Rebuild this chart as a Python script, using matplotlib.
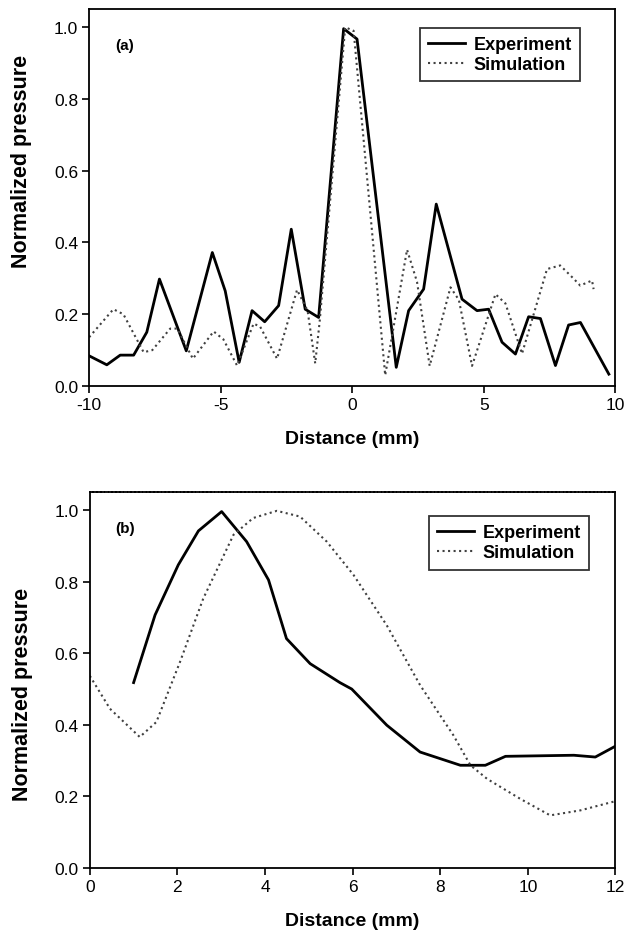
"""
Normalized pressure profiles: experiment vs simulation
"""

import matplotlib
matplotlib.use('Agg')
import matplotlib.pyplot as plt

plt.rcParams['font.family'] = ['Liberation Sans', 'DejaVu Sans']
plt.rcParams['axes.unicode_minus'] = False

# panel (a) - lateral profile
exp_a_x = [-10.0, -9.33, -8.82, -8.31, -7.81, -7.33, -6.31, -5.32, -4.83, -4.30,
           -3.81, -3.33, -2.80, -2.32, -1.79, -1.28, -0.33, 0.18, 1.67, 2.14,
           2.71, 3.19, 4.17, 4.74, 5.18, 5.69, 6.20, 6.70, 7.15, 7.72,
           8.22, 8.67, 9.75]
exp_a_y = [0.084, 0.059, 0.086, 0.086, 0.15, 0.298, 0.098, 0.372, 0.265, 0.066,
           0.21, 0.179, 0.224, 0.437, 0.214, 0.191, 0.996, 0.967, 0.052, 0.21,
           0.27, 0.507, 0.242, 0.21, 0.214, 0.122, 0.089, 0.193, 0.188, 0.057,
           0.17, 0.177, 0.033]

sim_a_x = [-10.0, -9.08, -8.7, -7.93, -7.6, -6.92, -6.65, -6.06, -5.27, -4.9,
           -4.38, -3.75, -3.5, -2.86, -2.1, -1.7, -1.41, -1.24, -0.27, 0.05,
           1.25, 2.08, 2.46, 2.94, 3.73, 4.05, 4.55, 5.44, 5.82, 6.45,
           7.40, 7.9, 8.4, 8.66, 9.11, 9.17]
sim_a_y = [0.136, 0.214, 0.2, 0.094, 0.1, 0.16, 0.16, 0.076, 0.152, 0.13,
           0.057, 0.174, 0.165, 0.076, 0.268, 0.21, 0.063, 0.18, 1.0, 0.99,
           0.03, 0.38, 0.29, 0.056, 0.275, 0.24, 0.056, 0.256, 0.23, 0.09,
           0.326, 0.336, 0.30, 0.28, 0.294, 0.27]

# panel (b) - axial profile
exp_b_x = [1.0, 1.49, 2.02, 2.48, 3.01, 3.58, 4.08, 4.49, 5.03, 5.71,
           5.98, 6.78, 7.54, 8.46, 9.03, 9.49, 11.05, 11.54, 12.04]
exp_b_y = [0.518, 0.707, 0.847, 0.942, 0.996, 0.912, 0.805, 0.641, 0.571, 0.518,
           0.50, 0.399, 0.324, 0.287, 0.287, 0.312, 0.315, 0.31, 0.343]

sim_b_x = [0.0, 0.46, 1.14, 1.52, 2.06, 2.59, 3.28, 3.73, 4.27, 4.8,
           5.41, 6.02, 6.78, 7.54, 8.30, 8.69, 9.07, 9.83, 10.51, 11.2, 12.04]
sim_b_y = [0.537, 0.445, 0.366, 0.408, 0.576, 0.753, 0.931, 0.978, 0.998, 0.982,
           0.912, 0.819, 0.678, 0.511, 0.371, 0.287, 0.249, 0.193, 0.147, 0.161, 0.188]

yticks = [0.0, 0.2, 0.4, 0.6, 0.8, 1.0]

fig = plt.figure(figsize=(6.28, 9.37), dpi=100)
ax_a = fig.add_axes([0.142, 0.587, 0.838, 0.402])
ax_b = fig.add_axes([0.143, 0.0726, 0.837, 0.401])


def style_axis(ax, xlim, xticks, tag, legend_anchor, ylabel_y):
    ax.set_xlim(*xlim)
    ax.set_ylim(0, 1.05)
    ax.set_xticks(xticks)
    ax.set_yticks(yticks)
    ax.set_yticklabels([f"{v:.1f}" for v in yticks])
    ax.tick_params(direction='out', length=5, width=1.2, labelsize=12.5, pad=3)
    for s in ax.spines.values():
        s.set_linewidth(1.3)
    ax.set_xlabel('Distance (mm)', fontsize=14, fontweight='bold', labelpad=13)
    ax.set_ylabel('Normalized pressure', fontsize=15.5, fontweight='bold')
    ax.yaxis.set_label_coords(-0.108, ylabel_y)
    ax.text(0.049, 0.905, tag, transform=ax.transAxes, fontsize=11,
            fontweight='bold', ha='left', va='center')
    leg = ax.legend(loc='upper right', bbox_to_anchor=legend_anchor,
                    frameon=True, fancybox=False, edgecolor='black',
                    handlelength=2.05, handletextpad=0.5, borderpad=0.45,
                    labelspacing=0.17, borderaxespad=0,
                    prop={'weight': 'bold', 'size': 13})
    leg.get_frame().set_linewidth(1.3)


ax_a.plot(exp_a_x, exp_a_y, color='black', lw=2.0, label='Experiment')
ax_a.plot(sim_a_x, sim_a_y, color='0.25', lw=1.5, ls=':', label='Simulation')
style_axis(ax_a, (-10, 10), [-10, -5, 0, 5, 10], '(a)', (0.933, 0.950), 0.6)

ax_b.plot(exp_b_x, exp_b_y, color='black', lw=2.0, label='Experiment')
ax_b.plot(sim_b_x, sim_b_y, color='0.25', lw=1.5, ls=':', label='Simulation')
style_axis(ax_b, (0, 12), [0, 2, 4, 6, 8, 10, 12], '(b)', (0.950, 0.936), 0.465)
ax_b.spines['top'].set_linestyle((0, (1.5, 0.6)))

fig.savefig('out.png', dpi=100)
plt.close(fig)
